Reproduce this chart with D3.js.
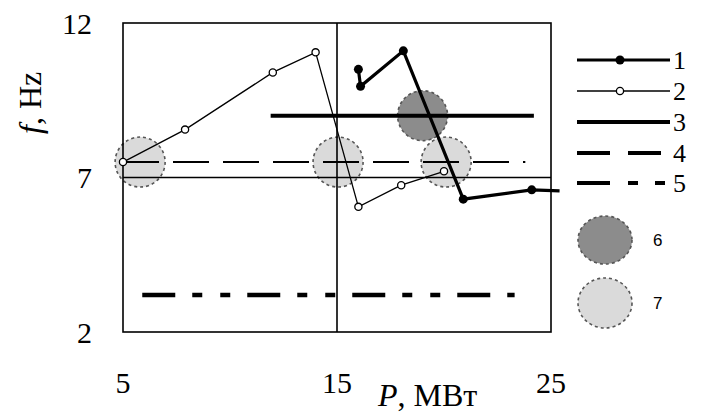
<!DOCTYPE html>
<html>
<head>
<meta charset="utf-8">
<script src="https://cdn.jsdelivr.net/npm/d3@7"></script>
<style>
  body { margin: 0; background: #fff; }
  text { font-family: "Liberation Serif", "DejaVu Serif", serif; fill: #000; }
</style>
</head>
<body>
<svg id="chart" width="704" height="412"></svg>
<script>
// values
const xTicks = [5, 15, 25];
const yTicks = [2, 7, 12];

// 1: filled dots, thick line
const series1 = [[16.0, 10.5], [16.1, 9.95], [18.1, 11.1], [20.9, 6.3], [24.1, 6.6], [25.4, 6.57]];
// 2: open dots, thin line
const series2 = [[5.0, 7.5], [7.9, 8.55], [12.0, 10.4], [14.0, 11.05], [16.0, 6.05], [18.0, 6.75], [20.0, 7.2]];
// 3, 4, 5: horizontal levels [xStart, xEnd, y]
const level3 = [11.9, 24.2, 9.0];
const level4 = [5.0, 23.8, 7.5];
const level5 = [5.9, 23.3, 3.2];
// 6, 7: shaded zones
const zones6 = [[19.0, 9.0]];
const zones7 = [[5.8, 7.5], [15.05, 7.5], [20.1, 7.5]];

const legendLabels = ["1", "2", "3", "4", "5", "6", "7"];

const svg = d3.select("#chart");

const x = d3.scaleLinear().domain([5, 25]).range([123, 551]);
const y = d3.scaleLinear().domain([2, 12]).range([332, 23]);

const line = d3.line()
    .x(function (d) { return x(d[0]); })
    .y(function (d) { return y(d[1]); });

const zoneStyle = function (sel, fill) {
    sel.attr("fill", fill)
        .attr("stroke", "#555")
        .attr("stroke-width", 1.6)
        .attr("stroke-dasharray", "3,3");
};

// shaded zones go under the lines
svg.selectAll("circle.z7")
    .data(zones7)
    .enter().append("circle")
    .attr("class", "z7")
    .attr("cx", function (d) { return x(d[0]); })
    .attr("cy", function (d) { return y(d[1]); })
    .attr("r", 25)
    .call(zoneStyle, "#dadada");

svg.selectAll("circle.z6")
    .data(zones6)
    .enter().append("circle")
    .attr("class", "z6")
    .attr("cx", function (d) { return x(d[0]); })
    .attr("cy", function (d) { return y(d[1]); })
    .attr("r", 25)
    .call(zoneStyle, "#8c8c8c");

// frame and the two cross lines
svg.append("rect")
    .attr("x", x(5))
    .attr("y", y(12))
    .attr("width", x(25) - x(5))
    .attr("height", y(2) - y(12))
    .attr("fill", "none")
    .attr("stroke", "#000")
    .attr("stroke-width", 1.6);

svg.append("line")
    .attr("x1", x(15)).attr("x2", x(15))
    .attr("y1", y(12)).attr("y2", y(2))
    .attr("stroke", "#000").attr("stroke-width", 1.6);

svg.append("line")
    .attr("x1", x(5)).attr("x2", x(25))
    .attr("y1", y(7)).attr("y2", y(7))
    .attr("stroke", "#000").attr("stroke-width", 1.6);

// horizontal levels
function level(l, width, dash) {
    svg.append("line")
        .attr("x1", x(l[0])).attr("x2", x(l[1]))
        .attr("y1", y(l[2])).attr("y2", y(l[2]))
        .attr("stroke", "#000")
        .attr("stroke-width", width)
        .attr("stroke-dasharray", dash);
}
level(level3, 4, null);
level(level4, 2, "36,14");
level(level5, 4.5, "33,17,10,18,10,17");

// series 2
svg.append("path")
    .datum(series2)
    .attr("d", line)
    .attr("fill", "none")
    .attr("stroke", "#000")
    .attr("stroke-width", 1.3);

svg.selectAll("circle.s2")
    .data(series2)
    .enter().append("circle")
    .attr("class", "s2")
    .attr("cx", function (d) { return x(d[0]); })
    .attr("cy", function (d) { return y(d[1]); })
    .attr("r", 3.6)
    .attr("fill", "#fff")
    .attr("stroke", "#000")
    .attr("stroke-width", 1.3);

// series 1
svg.append("path")
    .datum(series1)
    .attr("d", line)
    .attr("fill", "none")
    .attr("stroke", "#000")
    .attr("stroke-width", 3.2);

svg.selectAll("circle.s1")
    .data(series1.slice(0, 5))
    .enter().append("circle")
    .attr("class", "s1")
    .attr("cx", function (d) { return x(d[0]); })
    .attr("cy", function (d) { return y(d[1]); })
    .attr("r", 4.5)
    .attr("fill", "#000");

// tick labels
svg.selectAll("text.xt")
    .data(xTicks)
    .enter().append("text")
    .attr("class", "xt")
    .attr("x", function (d) { return x(d); })
    .attr("y", 393)
    .attr("text-anchor", "middle")
    .style("font-size", "30px")
    .text(function (d) { return d; });

svg.selectAll("text.yt")
    .data(yTicks)
    .enter().append("text")
    .attr("class", "yt")
    .attr("x", 92)
    .attr("y", function (d) { return y(d); })
    .attr("dy", "0.36em")
    .attr("text-anchor", "end")
    .style("font-size", "30px")
    .text(function (d) { return d; });

// axis titles
const xTitle = svg.append("text")
    .attr("x", 378)
    .attr("y", 406)
    .style("font-size", "32px");
xTitle.append("tspan").style("font-style", "italic").text("P");
xTitle.append("tspan").text(", МВт");

const yTitle = svg.append("text")
    .attr("transform", "translate(41,134) rotate(-90)")
    .style("font-size", "32px");
yTitle.append("tspan").style("font-style", "italic").text("f");
yTitle.append("tspan").text(", Hz");

// legend
const lx0 = 577, lx1 = 670, lMark = 620;
const legendY = [60, 91, 122, 153, 183, 240, 303];

function legendLine(i, width, dash) {
    svg.append("line")
        .attr("x1", lx0).attr("x2", lx1)
        .attr("y1", legendY[i]).attr("y2", legendY[i])
        .attr("stroke", "#000")
        .attr("stroke-width", width)
        .attr("stroke-dasharray", dash);
}
legendLine(0, 3.2, null);
legendLine(1, 1.3, null);
legendLine(2, 3.8, null);
legendLine(3, 4, "33,18");
legendLine(4, 4, "33,18,10,17,10,40");

svg.append("circle")
    .attr("cx", lMark).attr("cy", legendY[0])
    .attr("r", 4.5).attr("fill", "#000");
svg.append("circle")
    .attr("cx", lMark).attr("cy", legendY[1])
    .attr("r", 3.6).attr("fill", "#fff")
    .attr("stroke", "#000").attr("stroke-width", 1.3);

svg.append("ellipse")
    .attr("cx", 605).attr("cy", legendY[5])
    .attr("rx", 27).attr("ry", 24)
    .call(zoneStyle, "#8c8c8c");
svg.append("ellipse")
    .attr("cx", 605).attr("cy", legendY[6])
    .attr("rx", 27).attr("ry", 25)
    .call(zoneStyle, "#dadada");

svg.selectAll("text.lg")
    .data(legendLabels)
    .enter().append("text")
    .attr("class", "lg")
    .attr("x", function (d, i) { return i < 5 ? 673 : 653; })
    .attr("y", function (d, i) { return legendY[i]; })
    .attr("dy", "0.36em")
    .style("font-size", function (d, i) { return i < 5 ? "26px" : "17px"; })
    .style("font-family", function (d, i) { return i < 5 ? null : "'Liberation Sans', sans-serif"; })
    .text(function (d) { return d; });
</script>
</body>
</html>
